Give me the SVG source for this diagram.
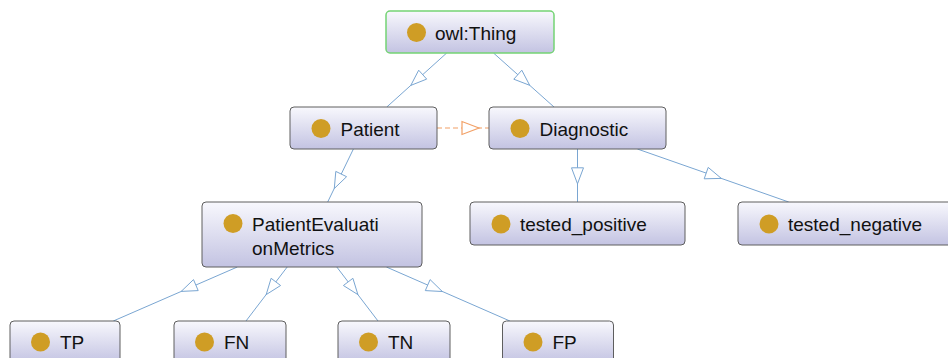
<svg xmlns="http://www.w3.org/2000/svg" width="948" height="358" viewBox="0 0 948 358">
<defs>
<linearGradient id="g" x1="0" y1="0" x2="0" y2="1">
<stop offset="0" stop-color="#f8f8fd"/>
<stop offset="1" stop-color="#c3c3e2"/>
</linearGradient>
<style>
.box{fill:url(#g);stroke:#5e5e5e;stroke-width:1}
.root{fill:url(#g);stroke:#74d374;stroke-width:1.5}
.dot{fill:#cf9d25}
.lbl{font-family:"Liberation Sans",Arial,sans-serif;font-size:19px;fill:#111}
.e{stroke:#7aa6d2;stroke-width:1;fill:none}
.h{stroke:#7aa6d2;stroke-width:1;fill:#fff}
.d{stroke:#f2a066;stroke-width:1.2;fill:none;stroke-dasharray:5 3}
.dh{stroke:#f2a066;stroke-width:1.2;fill:#fff}
</style>
</defs>
<rect width="948" height="358" fill="#fff"/>
<g id="connectors">
<line class="e" x1="446.7" y1="53" x2="386.8" y2="107"/>
<polygon class="h" points="410.8,85.4 426.7,79.1 418.7,70.2"/>
<line class="e" x1="493.5" y1="53" x2="554" y2="107"/>
<polygon class="h" points="529.7,85.3 513.8,79.2 521.8,70.2"/>
<line class="d" x1="437" y1="128" x2="489" y2="128"/>
<polygon class="dh" points="479,128 462,121.5 462,134.5"/>
<line class="e" x1="353.4" y1="149" x2="327.7" y2="202"/>
<polygon class="h" points="334.3,188.5 346.6,176.7 335.8,171.4"/>
<line class="e" x1="577.5" y1="149" x2="577.5" y2="202"/>
<polygon class="h" points="577.5,183.8 571.5,167.8 583.5,167.8"/>
<line class="e" x1="637.4" y1="149" x2="788.7" y2="202"/>
<polygon class="h" points="721.3,178.4 704.2,178.8 708.2,167.4"/>
<line class="e" x1="237.3" y1="267" x2="113.3" y2="321"/>
<polygon class="h" points="181.2,291.4 198.2,290.6 193.5,279.6"/>
<line class="e" x1="287.2" y1="267" x2="246" y2="321"/>
<polygon class="h" points="266.2,294.6 280.6,285.5 271.1,278.3"/>
<line class="e" x1="336.8" y1="267" x2="378" y2="321"/>
<polygon class="h" points="357.9,294.6 343.4,285.5 352.9,278.3"/>
<line class="e" x1="386.4" y1="267" x2="509.9" y2="321"/>
<polygon class="h" points="442.3,291.5 425.3,290.6 430.1,279.6"/>
</g>
<g id="owlThing">
<rect class="root" x="386" y="11" width="168" height="42" rx="4"/>
<circle class="dot" cx="416.5" cy="32.5" r="9.5"/>
<text class="lbl" x="435" y="39.5">owl:Thing</text>
</g>
<g id="Patient">
<rect class="box" x="290" y="107" width="147" height="42" rx="4"/>
<circle class="dot" cx="321" cy="128.5" r="9.5"/>
<text class="lbl" x="340.5" y="135.5">Patient</text>
</g>
<g id="Diagnostic">
<rect class="box" x="489" y="107" width="177" height="42" rx="4"/>
<circle class="dot" cx="520" cy="128.5" r="9.5"/>
<text class="lbl" x="539.5" y="135.5">Diagnostic</text>
</g>
<g id="PatientEvaluationMetrics">
<rect class="box" x="202" y="202" width="220" height="65" rx="4"/>
<circle class="dot" cx="233" cy="223.5" r="9.5"/>
<text class="lbl" x="252" y="231">PatientEvaluati</text>
<text class="lbl" x="252" y="255">onMetrics</text>
</g>
<g id="tested_positive">
<rect class="box" x="470" y="202" width="215" height="43" rx="4"/>
<circle class="dot" cx="501" cy="224" r="9.5"/>
<text class="lbl" x="520" y="231">tested_positive</text>
</g>
<g id="tested_negative">
<rect class="box" x="738" y="202" width="224" height="43" rx="4"/>
<circle class="dot" cx="769" cy="224" r="9.5"/>
<text class="lbl" x="788" y="231">tested_negative</text>
</g>
<g id="TP">
<rect class="box" x="10" y="321" width="110" height="42" rx="4"/>
<circle class="dot" cx="40.5" cy="342" r="9.5"/>
<text class="lbl" x="60" y="349">TP</text>
</g>
<g id="FN">
<rect class="box" x="174" y="321" width="112" height="42" rx="4"/>
<circle class="dot" cx="204.5" cy="342" r="9.5"/>
<text class="lbl" x="224" y="349">FN</text>
</g>
<g id="TN">
<rect class="box" x="338" y="321" width="112" height="42" rx="4"/>
<circle class="dot" cx="368.5" cy="342" r="9.5"/>
<text class="lbl" x="388" y="349">TN</text>
</g>
<g id="FP">
<rect class="box" x="502.5" y="321" width="111" height="42" rx="4"/>
<circle class="dot" cx="533" cy="342" r="9.5"/>
<text class="lbl" x="552.5" y="349">FP</text>
</g>
</svg>
